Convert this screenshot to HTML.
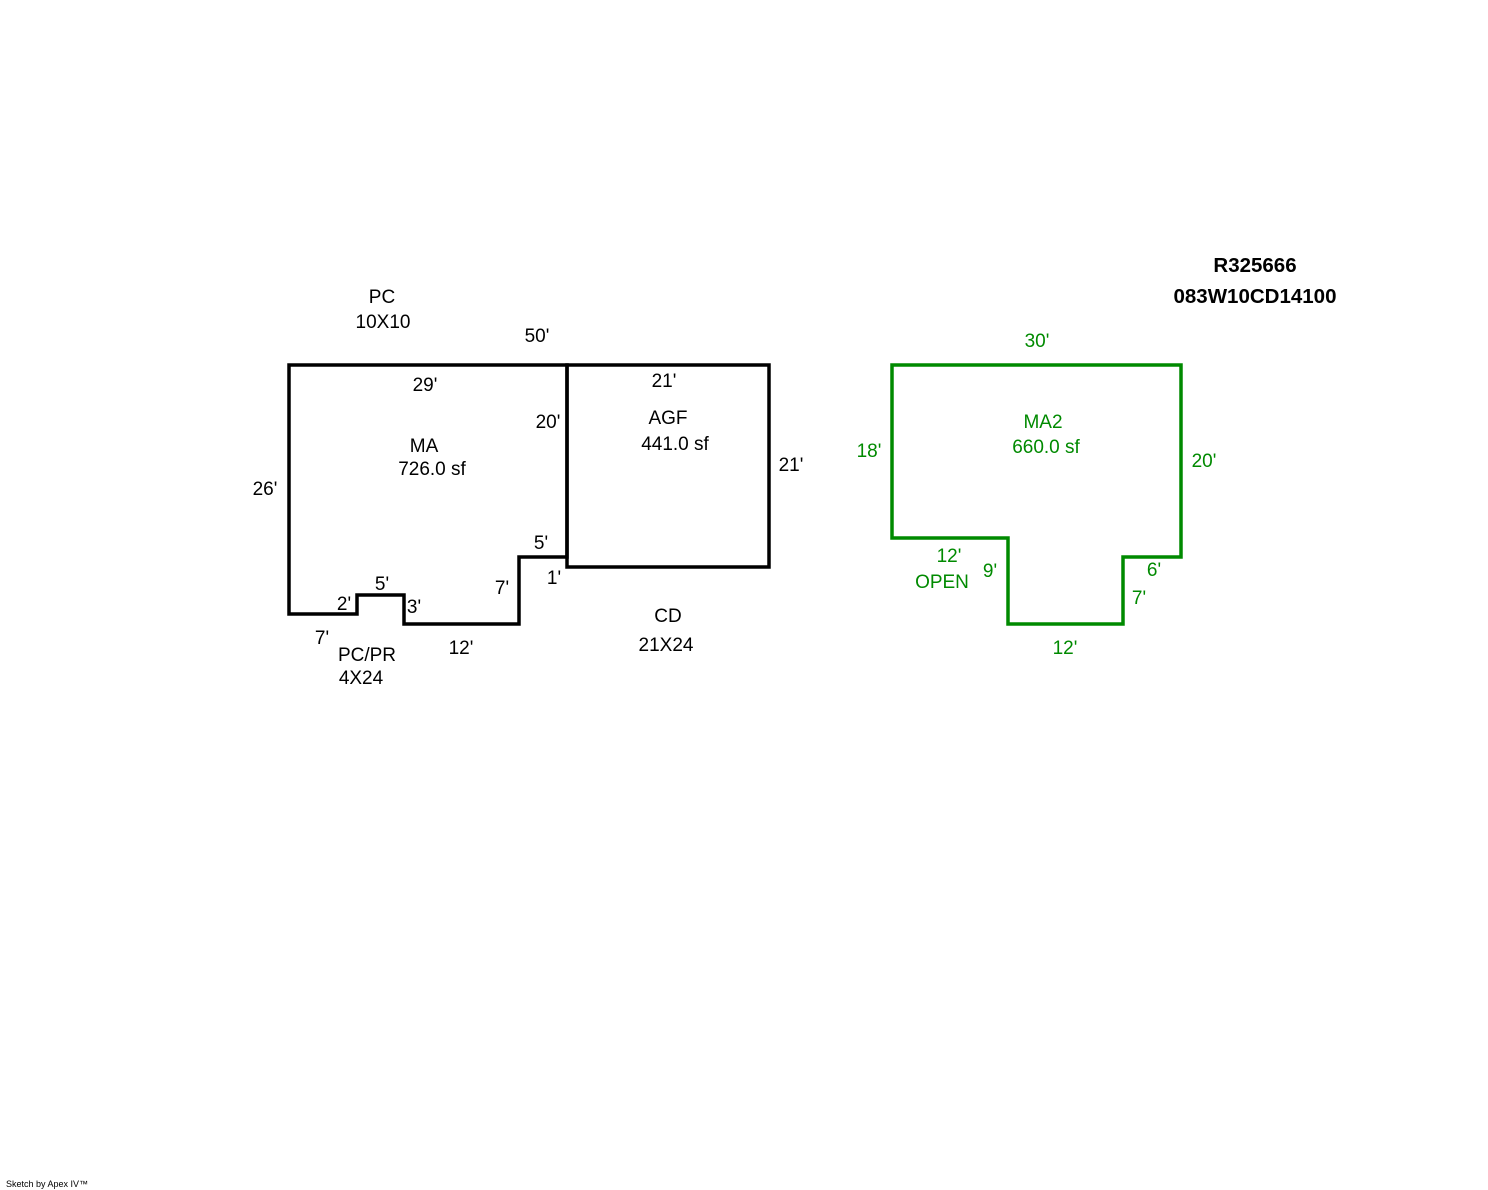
<!DOCTYPE html>
<html><head><meta charset="utf-8"><style>
html,body{margin:0;padding:0;background:#fff;}
svg{display:block;}
text{font-family:"Liberation Sans",Arial,sans-serif;font-size:19px;}
</style></head><body>
<svg width="1488" height="1190" viewBox="0 0 1488 1190" xmlns="http://www.w3.org/2000/svg">
<rect width="1488" height="1190" fill="#fff"/>
<g fill="none" stroke="#000" stroke-width="3.5" stroke-linejoin="miter">
<polygon points="289,365 567,365 567,557 519,557 519,624 404,624 404,595 357,595 357,614 289,614"/>
<rect x="567" y="365" width="202" height="202"/>
</g>
<polygon points="892,365 1181,365 1181,557 1123,557 1123,624 1008,624 1008,538 892,538" fill="none" stroke="#008a00" stroke-width="3.5"/>
<g fill="#000" text-anchor="middle">
<text x="382" y="303">PC</text>
<text x="383" y="328">10X10</text>
<text x="537" y="342">50'</text>
<text x="425" y="391">29'</text>
<text x="664" y="387">21'</text>
<text x="548" y="428">20'</text>
<text x="668" y="424">AGF</text>
<text x="675" y="450">441.0 sf</text>
<text x="424" y="452">MA</text>
<text x="432" y="475">726.0 sf</text>
<text x="791" y="471">21'</text>
<text x="265" y="495">26'</text>
<text x="541" y="549">5'</text>
<text x="554" y="584">1'</text>
<text x="382" y="590">5'</text>
<text x="502" y="594">7'</text>
<text x="344" y="610">2'</text>
<text x="414" y="613">3'</text>
<text x="668" y="622">CD</text>
<text x="666" y="651">21X24</text>
<text x="322" y="644">7'</text>
<text x="461" y="654">12'</text>
<text x="367" y="661">PC/PR</text>
<text x="361" y="684">4X24</text>
<text x="1255" y="272" font-weight="bold" style="font-size:20.5px">R325666</text>
<text x="1255" y="303" font-weight="bold" style="font-size:20.5px">083W10CD14100</text>
</g>
<g fill="#008a00" text-anchor="middle">
<text x="1037" y="347">30'</text>
<text x="1043" y="428">MA2</text>
<text x="1046" y="453">660.0 sf</text>
<text x="869" y="457">18'</text>
<text x="1204" y="467">20'</text>
<text x="949" y="562">12'</text>
<text x="942" y="588">OPEN</text>
<text x="990" y="577">9'</text>
<text x="1154" y="576">6'</text>
<text x="1139" y="604">7'</text>
<text x="1065" y="654">12'</text>
</g>
<text x="6" y="1187" style="font-size:9px" fill="#000">Sketch by Apex IV™</text>
</svg>
</body></html>
